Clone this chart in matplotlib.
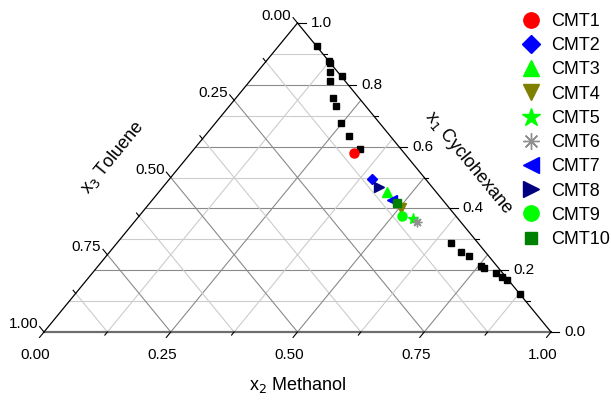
import matplotlib
matplotlib.use('Agg')
import matplotlib.pyplot as plt
import numpy as np

plt.rcParams['font.family'] = ['Liberation Sans', 'DejaVu Sans']

# binodal points (x1 cyclohexane, x2 methanol)
curve_x1 = [0.926, 0.878, 0.870, 0.842, 0.829, 0.812, 0.758, 0.731, 0.675, 0.634, 0.591,
            0.287, 0.260, 0.246, 0.215, 0.207, 0.190, 0.179, 0.168, 0.123]
curve_x2 = [0.075, 0.124, 0.129, 0.143, 0.173, 0.159, 0.191, 0.210, 0.249, 0.284, 0.328,
            0.659, 0.692, 0.716, 0.755, 0.764, 0.797, 0.813, 0.829, 0.877]

# CMT points
cmt_names = ['CMT1', 'CMT2', 'CMT3', 'CMT4', 'CMT5', 'CMT6', 'CMT7', 'CMT8', 'CMT9', 'CMT10']
cmt_x1 = [0.578, 0.495, 0.452, 0.402, 0.365, 0.357, 0.427, 0.470, 0.376, 0.417]
cmt_x2 = [0.323, 0.399, 0.450, 0.504, 0.545, 0.557, 0.472, 0.426, 0.519, 0.487]
cmt_markers = ['o', 'D', '^', 'v', '*', (8, 2, 0), '<', '>', 'o', 's']
cmt_colors = ['#ff0000', '#0000ff', '#00ff00', '#808000', '#00ff00', '#909090',
              '#0000ff', '#000080', '#00ff00', '#008000']
cmt_sizes = [6.5, 5.5, 6.5, 6.5, 8, 7, 6.5, 6.5, 6.5, 5.5]

x2_ticks = [0.00, 0.25, 0.50, 0.75, 1.00]
x3_ticks = [0.00, 0.25, 0.50, 0.75, 1.00]
x1_ticks = [0.0, 0.2, 0.4, 0.6, 0.8, 1.0]

W, H = 507.0, 309.0  # triangle size in pixels


def tern(x1, x2):
    x1 = np.asarray(x1, float)
    x2 = np.asarray(x2, float)
    return x2 + x1 / 2, x1


fig = plt.figure(figsize=(6.11, 4.01), dpi=100)
ax = fig.add_axes([44 / 611, (401 - 332) / 401, W / 611, H / 401])
ax.set_xlim(0, 1)
ax.set_ylim(0, 1)
ax.axis('off')

major_c, minor_c = '#8a8a8a', '#cccccc'

# grid: constant x1 (horizontal)
for k in range(1, 10):
    v = k / 10
    xa, ya = tern([v, v], [0, 1 - v])
    ax.plot(xa, ya, color=major_c if k % 2 == 0 else minor_c, lw=0.8, zorder=1)
# constant x2 and constant x3
for k in range(1, 8):
    v = k / 8
    c = major_c if k % 2 == 0 else minor_c
    xa, ya = tern([0, 1 - v], [v, v])
    ax.plot(xa, ya, color=c, lw=0.8, zorder=1)
    xa, ya = tern([0, 1 - v], [1 - v, 0])
    ax.plot(xa, ya, color=c, lw=0.8, zorder=1)

# edges
ax.plot([0, 1], [0, 0], color='#6e6e6e', lw=1.6, zorder=2, clip_on=False)
ax.plot([0, 0.5], [0, 1], color='black', lw=0.9, zorder=2, clip_on=False)
ax.plot([1, 0.5], [0, 1], color='black', lw=0.9, zorder=2, clip_on=False)

# tick marks
dl = np.array([-254, 309]) / np.hypot(254, 309)   # down-left
ul = np.array([-253, -309]) / np.hypot(253, 309)  # up-left (in px, y down)
for k in range(9):
    v = k / 8
    ln = 7 if k % 2 == 0 else 4
    # bottom (x2)
    x0, y0 = tern(0, v)
    ax.plot([x0, x0 + dl[0] * ln / W], [y0, y0 - dl[1] * ln / H], color='black', lw=0.8,
            clip_on=False, zorder=2)
    # left (x3)
    x0, y0 = tern(1 - v, 0)
    ax.plot([x0, x0 + ul[0] * ln / W], [y0, y0 - ul[1] * ln / H], color='black', lw=0.8,
            clip_on=False, zorder=2)
for k in range(11):
    v = k / 10
    ln = 8 if k % 2 == 0 else 4
    x0, y0 = tern(v, 1 - v)
    ax.plot([x0, x0 + ln / W], [y0, y0], color='black', lw=0.8, clip_on=False, zorder=2)

# tick labels
for v in x2_ticks:
    x0, y0 = tern(0, v)
    ax.annotate(f'{v:.2f}', (x0, y0), xytext=(-8.5, -23), textcoords='offset pixels',
                ha='center', va='center', fontsize=11, annotation_clip=False)
for v in x3_ticks:
    x0, y0 = tern(1 - v, 0)
    ax.annotate(f'{v:.2f}', (x0, y0), xytext=(-6, 7.5), textcoords='offset pixels',
                ha='right', va='center', fontsize=11, annotation_clip=False)
for v in x1_ticks:
    x0, y0 = tern(v, 1 - v)
    ax.annotate(f'{v:.1f}', (x0, y0), xytext=(13, 0), textcoords='offset pixels',
                ha='left', va='center', fontsize=11, annotation_clip=False)

ang = np.degrees(np.arctan2(309, 254))
ax.annotate('x$_2$ Methanol', (0.5, 0), xytext=(0, -53), textcoords='offset pixels',
            ha='center', va='center', fontsize=13, annotation_clip=False)
ax.annotate('x$_3$ Toluene', (0.25, 0.5), xytext=(-58, 20), textcoords='offset pixels',
            ha='center', va='center', fontsize=13, rotation=ang, annotation_clip=False)
ax.annotate('x$_1$ Cyclohexane', (0.75, 0.5), xytext=(44, 15), textcoords='offset pixels',
            ha='center', va='center', fontsize=13, rotation=-ang, annotation_clip=False)

# data
cx, cy = tern(curve_x1, curve_x2)
ax.plot(cx, cy, 's', color='black', ms=4.5, zorder=4, clip_on=False)

handles = []
for name, a, b, m, c, s in zip(cmt_names, cmt_x1, cmt_x2, cmt_markers, cmt_colors, cmt_sizes):
    px, py = tern([a], [b])
    h, = ax.plot(px, py, linestyle='none', marker=m, color=c, mec=c, ms=s, mew=1,
                 zorder=5, label=name)
    handles.append(h)

fig.legend(handles=handles, loc='upper left', bbox_to_anchor=(522 / 611, 1 - 13 / 401),
           frameon=False, fontsize=13, markerscale=1.7, handlelength=1.0,
           handletextpad=0.62, labelspacing=0.40, borderpad=0, borderaxespad=0)

fig.savefig('out.png', dpi=100)
